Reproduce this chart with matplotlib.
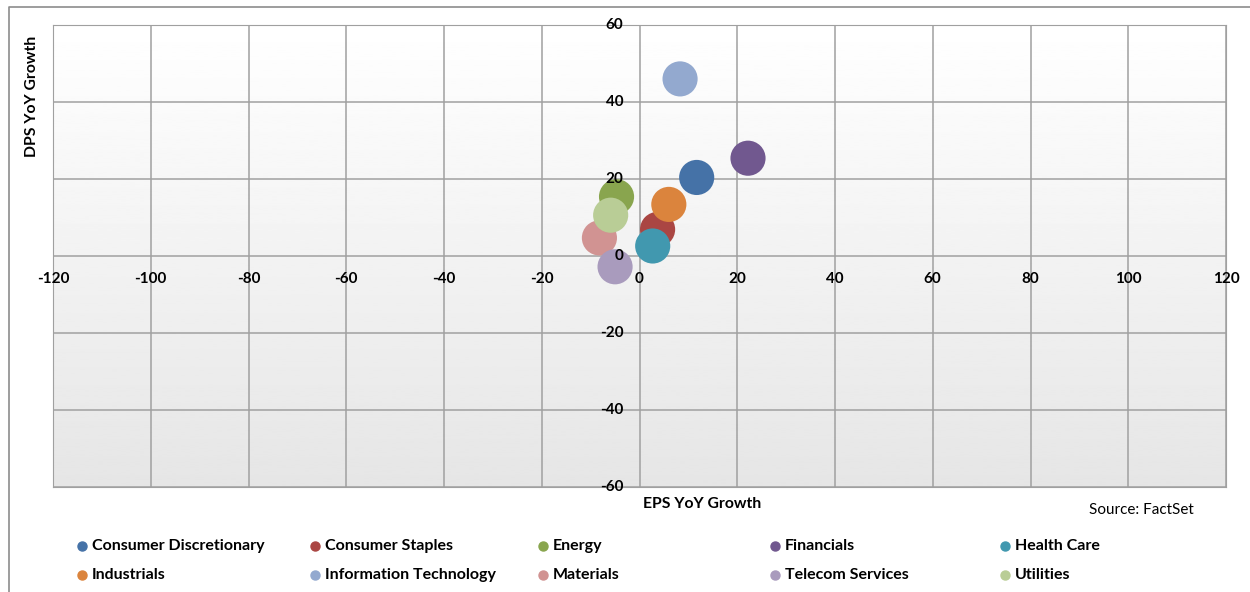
import numpy as np
import matplotlib.pyplot as plt
import matplotlib.lines as mlines

plt.rcParams['font.family'] = ['Lato', 'DejaVu Sans']

sectors = ['Consumer Discretionary', 'Consumer Staples', 'Energy', 'Financials', 'Health Care',
           'Industrials', 'Information Technology', 'Materials', 'Telecom Services', 'Utilities']
eps_growth = [11.7, 3.7, -4.7, 22.2, 2.7, 6.0, 8.3, -8.2, -5.0, -5.9]
dps_growth = [20.4, 6.9, 15.4, 25.4, 2.6, 13.4, 46.0, 4.7, -2.8, 10.6]
colors = ['#4572A7', '#AA4643', '#89A54E', '#71588F', '#4198AF',
          '#DB843D', '#93A9CF', '#D19392', '#A99BBD', '#B9CD96']
xticks = [-120, -100, -80, -60, -40, -20, 0, 20, 40, 60, 80, 100, 120]
yticks = [-60, -40, -20, 0, 20, 40, 60]

fig = plt.figure(figsize=(12.5, 5.92), dpi=100)
ax = fig.add_axes([53/1250, 1-487/592, 1173/1250, 462/592])

# grey gradient background
grad = np.linspace(0.90, 1.0, 256).reshape(-1, 1)
ax.imshow(grad, extent=[-120, 120, -60, 60], origin='lower', aspect='auto',
          cmap='gray', vmin=0, vmax=1, zorder=0)

ax.set_xlim(-120, 120)
ax.set_ylim(-60, 60)
for v in xticks:
    ax.axvline(v, color='#a0a0a0', lw=1.1, zorder=1)
for v in yticks:
    ax.axhline(v, color='#a0a0a0', lw=1.1, zorder=1)
for s in ax.spines.values():
    s.set_color('#a0a0a0')
ax.set_xticks([])
ax.set_yticks([])

# tick labels sit on the zero axes, like Excel (drawn over the bubbles)
for v in xticks:
    ax.annotate(str(v), (v, 0), xytext=(0, -23), textcoords='offset pixels',
                ha='center', va='center', fontsize=11, fontweight='bold',
                annotation_clip=False, zorder=6)
for v in yticks:
    ax.annotate(str(v), (0, v), xytext=(-16, 0), textcoords='offset pixels',
                ha='right', va='center', fontsize=11, fontweight='bold',
                annotation_clip=False, zorder=6)

for i in range(len(sectors)):
    ax.scatter(eps_growth[i], dps_growth[i], s=640, color=colors[i], edgecolors='none', zorder=3)

fig.text(32/1250, 1-96/592, 'DPS YoY Growth', rotation=90, ha='center', va='center',
         fontsize=11.3, fontweight='bold')
fig.text(702/1250, 1-504/592, 'EPS YoY Growth', ha='center', va='center',
         fontsize=11.3, fontweight='bold')
fig.text(1194/1250, 1-510/592, 'Source: FactSet', ha='right', va='center', fontsize=11)

# legend, two rows of five evenly spaced columns
col_x = [82, 315, 543, 775, 1005]
row_y = [546, 575]
for i, name in enumerate(sectors):
    x = col_x[i % 5]
    y = row_y[i // 5]
    fig.add_artist(mlines.Line2D([x/1250], [1-y/592], marker='o', markersize=6.5,
                                 color=colors[i], linestyle='none', transform=fig.transFigure))
    fig.text((x+10)/1250, 1-y/592, name, ha='left', va='center', fontsize=11.5, fontweight='bold')

# outer chart frame
fig.add_artist(mlines.Line2D([9/1250, 9/1250, 1.0], [0.0, 1-7/592, 1-7/592],
                             color='#8c8c8c', lw=1.2, transform=fig.transFigure))

fig.savefig('out.png', dpi=100)
